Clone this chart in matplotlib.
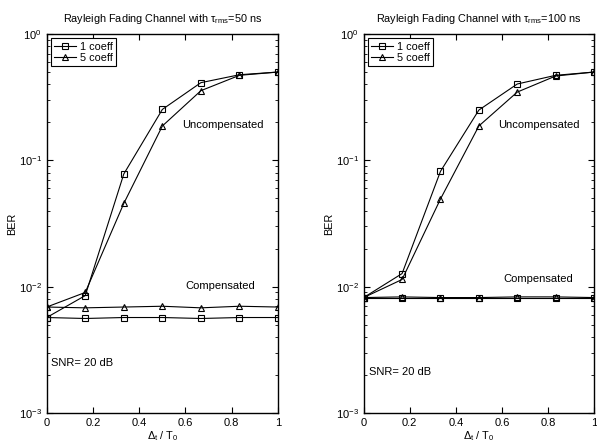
import matplotlib
matplotlib.use("Agg")
import matplotlib.pyplot as plt
from matplotlib.ticker import LogLocator, NullFormatter

plt.rcParams['font.family'] = ['Liberation Sans', 'DejaVu Sans']
plt.rcParams['mathtext.fontset'] = 'custom'
plt.rcParams['mathtext.rm'] = 'Liberation Sans'
plt.rcParams['mathtext.it'] = 'Liberation Sans:italic'
plt.rcParams['mathtext.default'] = 'regular'

x = [0, 1/6, 1/3, 1/2, 2/3, 5/6, 1]

# Left panel: tau_rms = 50 ns
left_unc_1 = [0.0057, 0.0085, 0.078, 0.253, 0.412, 0.476, 0.50]
left_unc_5 = [0.0069, 0.0090, 0.0456, 0.187, 0.356, 0.471, 0.50]
left_cmp_1 = [0.0057, 0.0056, 0.0057, 0.0057, 0.0056, 0.0057, 0.0057]
left_cmp_5 = [0.0069, 0.0068, 0.0069, 0.0070, 0.0068, 0.0070, 0.0069]

# Right panel: tau_rms = 100 ns
right_unc_1 = [0.0082, 0.0127, 0.0818, 0.250, 0.402, 0.471, 0.50]
right_unc_5 = [0.0082, 0.0114, 0.0494, 0.187, 0.347, 0.465, 0.50]
right_cmp_1 = [0.0082, 0.0082, 0.0082, 0.0082, 0.0082, 0.0082, 0.0082]
right_cmp_5 = [0.0082, 0.0083, 0.0082, 0.0082, 0.0083, 0.0083, 0.0082]

titles = [r'Rayleigh Fading Channel with $\tau_{\rm rms}$=50 ns',
          r'Rayleigh Fading Channel with $\tau_{\rm rms}$=100 ns']
xticks = [0, 0.2, 0.4, 0.6, 0.8, 1]
xticklabels = ['0', '0.2', '0.4', '0.6', '0.8', '1']
legend_labels = ['1 coeff', '5 coeff']

fig = plt.figure(figsize=(5.97, 4.44), dpi=100)
ax1 = fig.add_axes([0.0782, 0.0698, 0.3875, 0.8536])
ax2 = fig.add_axes([0.6092, 0.0698, 0.3858, 0.8536])

panels = [
    (ax1, left_unc_1, left_unc_5, left_cmp_1, left_cmp_5, titles[0],
     (0.76, 0.76), (0.75, 0.335), (0.019, 0.132)),
    (ax2, right_unc_1, right_unc_5, right_cmp_1, right_cmp_5, titles[1],
     (0.76, 0.76), (0.76, 0.354), (0.022, 0.108)),
]

for ax, u1, u5, c1, c5, title, pu, pc, ps in panels:
    kw = dict(color='black', lw=0.8, mfc='none', mec='black', mew=0.8)
    l1, = ax.plot(x, u1, marker='s', ms=4.5, **kw)
    l5, = ax.plot(x, u5, marker='^', ms=5, **kw)
    ax.plot(x, c1, marker='s', ms=4.5, **kw)
    ax.plot(x, c5, marker='^', ms=5, **kw)
    ax.set_yscale('log')
    ax.set_ylim(1e-3, 1)
    ax.set_xlim(0, 1)
    ax.set_xticks(xticks)
    ax.set_xticklabels(xticklabels)
    ax.yaxis.set_major_locator(LogLocator(base=10, numticks=10))
    ax.yaxis.set_minor_locator(LogLocator(base=10, subs=range(2, 10), numticks=20))
    ax.yaxis.set_minor_formatter(NullFormatter())
    ax.tick_params(which='both', direction='in', top=True, right=True, labelsize=8)
    ax.tick_params(which='major', length=4, width=0.8)
    ax.tick_params(which='minor', length=2, width=0.6)
    for s in ax.spines.values():
        s.set_linewidth(1.0)
    ax.set_title(title, fontsize=7.8, pad=8.5)
    ax.set_ylabel('BER', fontsize=7.8, labelpad=1)
    ax.set_xlabel(r'$\Delta_{\rm t}$ / T$_{0}$', fontsize=7.8, labelpad=1)
    ax.text(pu[0], pu[1], 'Uncompensated', transform=ax.transAxes, fontsize=8,
            ha='center', va='center')
    ax.text(pc[0], pc[1], 'Compensated', transform=ax.transAxes, fontsize=8,
            ha='center', va='center')
    ax.text(ps[0], ps[1], 'SNR= 20 dB', transform=ax.transAxes, fontsize=8,
            ha='left', va='center')
    leg = ax.legend([l1, l5], legend_labels, loc='upper left', fontsize=7.8,
                    fancybox=False, framealpha=1, edgecolor='black',
                    borderpad=0.3, handlelength=2.0, handletextpad=0.4,
                    labelspacing=0.15, borderaxespad=0.4)
    leg.get_frame().set_linewidth(0.8)

fig.savefig('out.png', dpi=100)
